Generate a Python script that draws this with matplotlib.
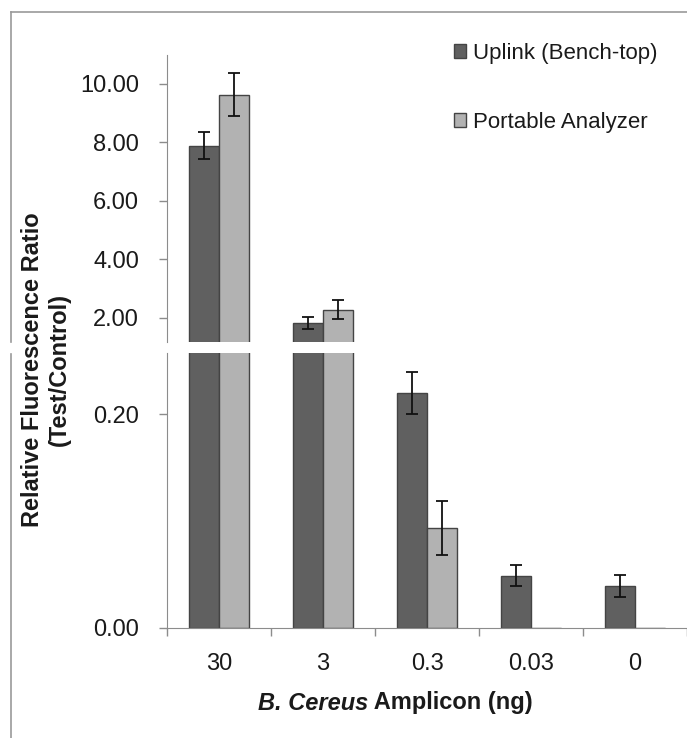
import matplotlib.pyplot as plt
import numpy as np
from matplotlib.patches import Patch
from matplotlib.lines import Line2D

plt.rcParams['font.family'] = ['Liberation Sans', 'DejaVu Sans']

amplicon = ['30', '3', '0.3', '0.03', '0']
uplink = [7.89, 1.82, 0.220, 0.0487, 0.039]
uplink_err = [0.47, 0.20, 0.020, 0.010, 0.010]
portable = [9.63, 2.27, 0.0934, -0.001, -0.001]
portable_err = [0.74, 0.32, 0.025, 0.0, 0.0]

dark = '#606060'
light = '#b2b2b2'
edge = '#444444'
axcol = '#8c8c8c'
txt = '#1a1a1a'

fig = plt.figure(figsize=(6.87, 7.38), dpi=100)
W, H = 687.0, 738.0
left, right = 167 / W, 1.0
ax_top = fig.add_axes([left, 1 - 342 / H, right - left, (342 - 55) / H])
ax_bot = fig.add_axes([left, 1 - 627.7 / H, right - left, (627.7 - 353) / H])

x = np.arange(len(amplicon))
w = 0.29
for ax in (ax_top, ax_bot):
    ax.bar(x - w / 2, uplink, w, color=dark, edgecolor=edge, linewidth=1.0, zorder=2)
    ax.bar(x + w / 2, portable, w, color=light, edgecolor=edge, linewidth=1.0, zorder=2)
    ue = np.array(uplink_err)
    pe = np.array(portable_err)
    m = ue > 0
    ax.errorbar((x - w / 2)[m], np.array(uplink)[m], yerr=ue[m], fmt='none',
                ecolor='#111111', elinewidth=1.3, capsize=4.5, capthick=1.3, zorder=3)
    m = pe > 0
    ax.errorbar((x + w / 2)[m], np.array(portable)[m], yerr=pe[m], fmt='none',
                ecolor='#111111', elinewidth=1.3, capsize=4.5, capthick=1.3, zorder=3)
    ax.set_xlim(-0.5, len(amplicon) - 0.5)
    for s in ('top', 'right'):
        ax.spines[s].set_visible(False)
    ax.spines['left'].set_color(axcol)
    ax.spines['bottom'].set_color(axcol)
    ax.tick_params(axis='y', direction='out', length=6, width=1, color=axcol,
                   labelsize=17, labelcolor=txt, pad=14)
    ax.yaxis.set_major_formatter(plt.FormatStrFormatter('%.2f'))

ax_top.set_ylim(1.17, 10.99)
ax_top.set_yticks([2, 4, 6, 8, 10])
ax_top.spines['bottom'].set_visible(False)
ax_top.set_xticks([])

ax_bot.set_ylim(0, 0.2575)
ax_bot.set_yticks([0.0, 0.2])
ax_bot.set_xticks(x)
ax_bot.set_xticklabels(amplicon)
ax_bot.set_xticks(np.arange(len(amplicon) + 1) - 0.5, minor=True)
ax_bot.tick_params(axis='x', which='major', length=0, labelsize=17, labelcolor=txt, pad=18)
ax_bot.tick_params(axis='x', which='minor', direction='out', length=6, width=1, color=axcol)

# outer frame, broken at the axis gap
fc = '#9a9a9a'
fig.add_artist(Line2D([10.5 / W, 1.0], [1 - 12 / H, 1 - 12 / H], color=fc, lw=1.2))
fig.add_artist(Line2D([10.5 / W, 10.5 / W], [1 - 12 / H, 1 - 342 / H], color=fc, lw=1.2))
fig.add_artist(Line2D([10.5 / W, 10.5 / W], [1 - 354 / H, 0], color=fc, lw=1.2))

fig.text(46 / W, 1 - 370 / H, 'Relative Fluorescence Ratio\n(Test/Control)', rotation=90,
         ha='center', va='center', fontsize=17, fontweight='bold', color=txt, linespacing=1.25)

fig.text(368 / W, 1 - 703 / H, 'B. Cereus', ha='right', va='center', fontsize=17,
         fontweight='bold', fontstyle='italic', color=txt)
fig.text(368 / W, 1 - 703 / H, ' Amplicon (ng)', ha='left', va='center', fontsize=17,
         fontweight='bold', color=txt)

handles = [Patch(facecolor=dark, edgecolor=edge), Patch(facecolor=light, edgecolor=edge)]
fig.legend(handles, ['Uplink (Bench-top)', 'Portable Analyzer'], loc='upper left',
           bbox_to_anchor=(454 / W, 1 - 43 / H), frameon=False, fontsize=16,
           handlelength=0.55, handleheight=0.55, handletextpad=0.3, labelspacing=2.15,
           borderpad=0, borderaxespad=0, labelcolor=txt)

fig.savefig('out.png', dpi=100)
